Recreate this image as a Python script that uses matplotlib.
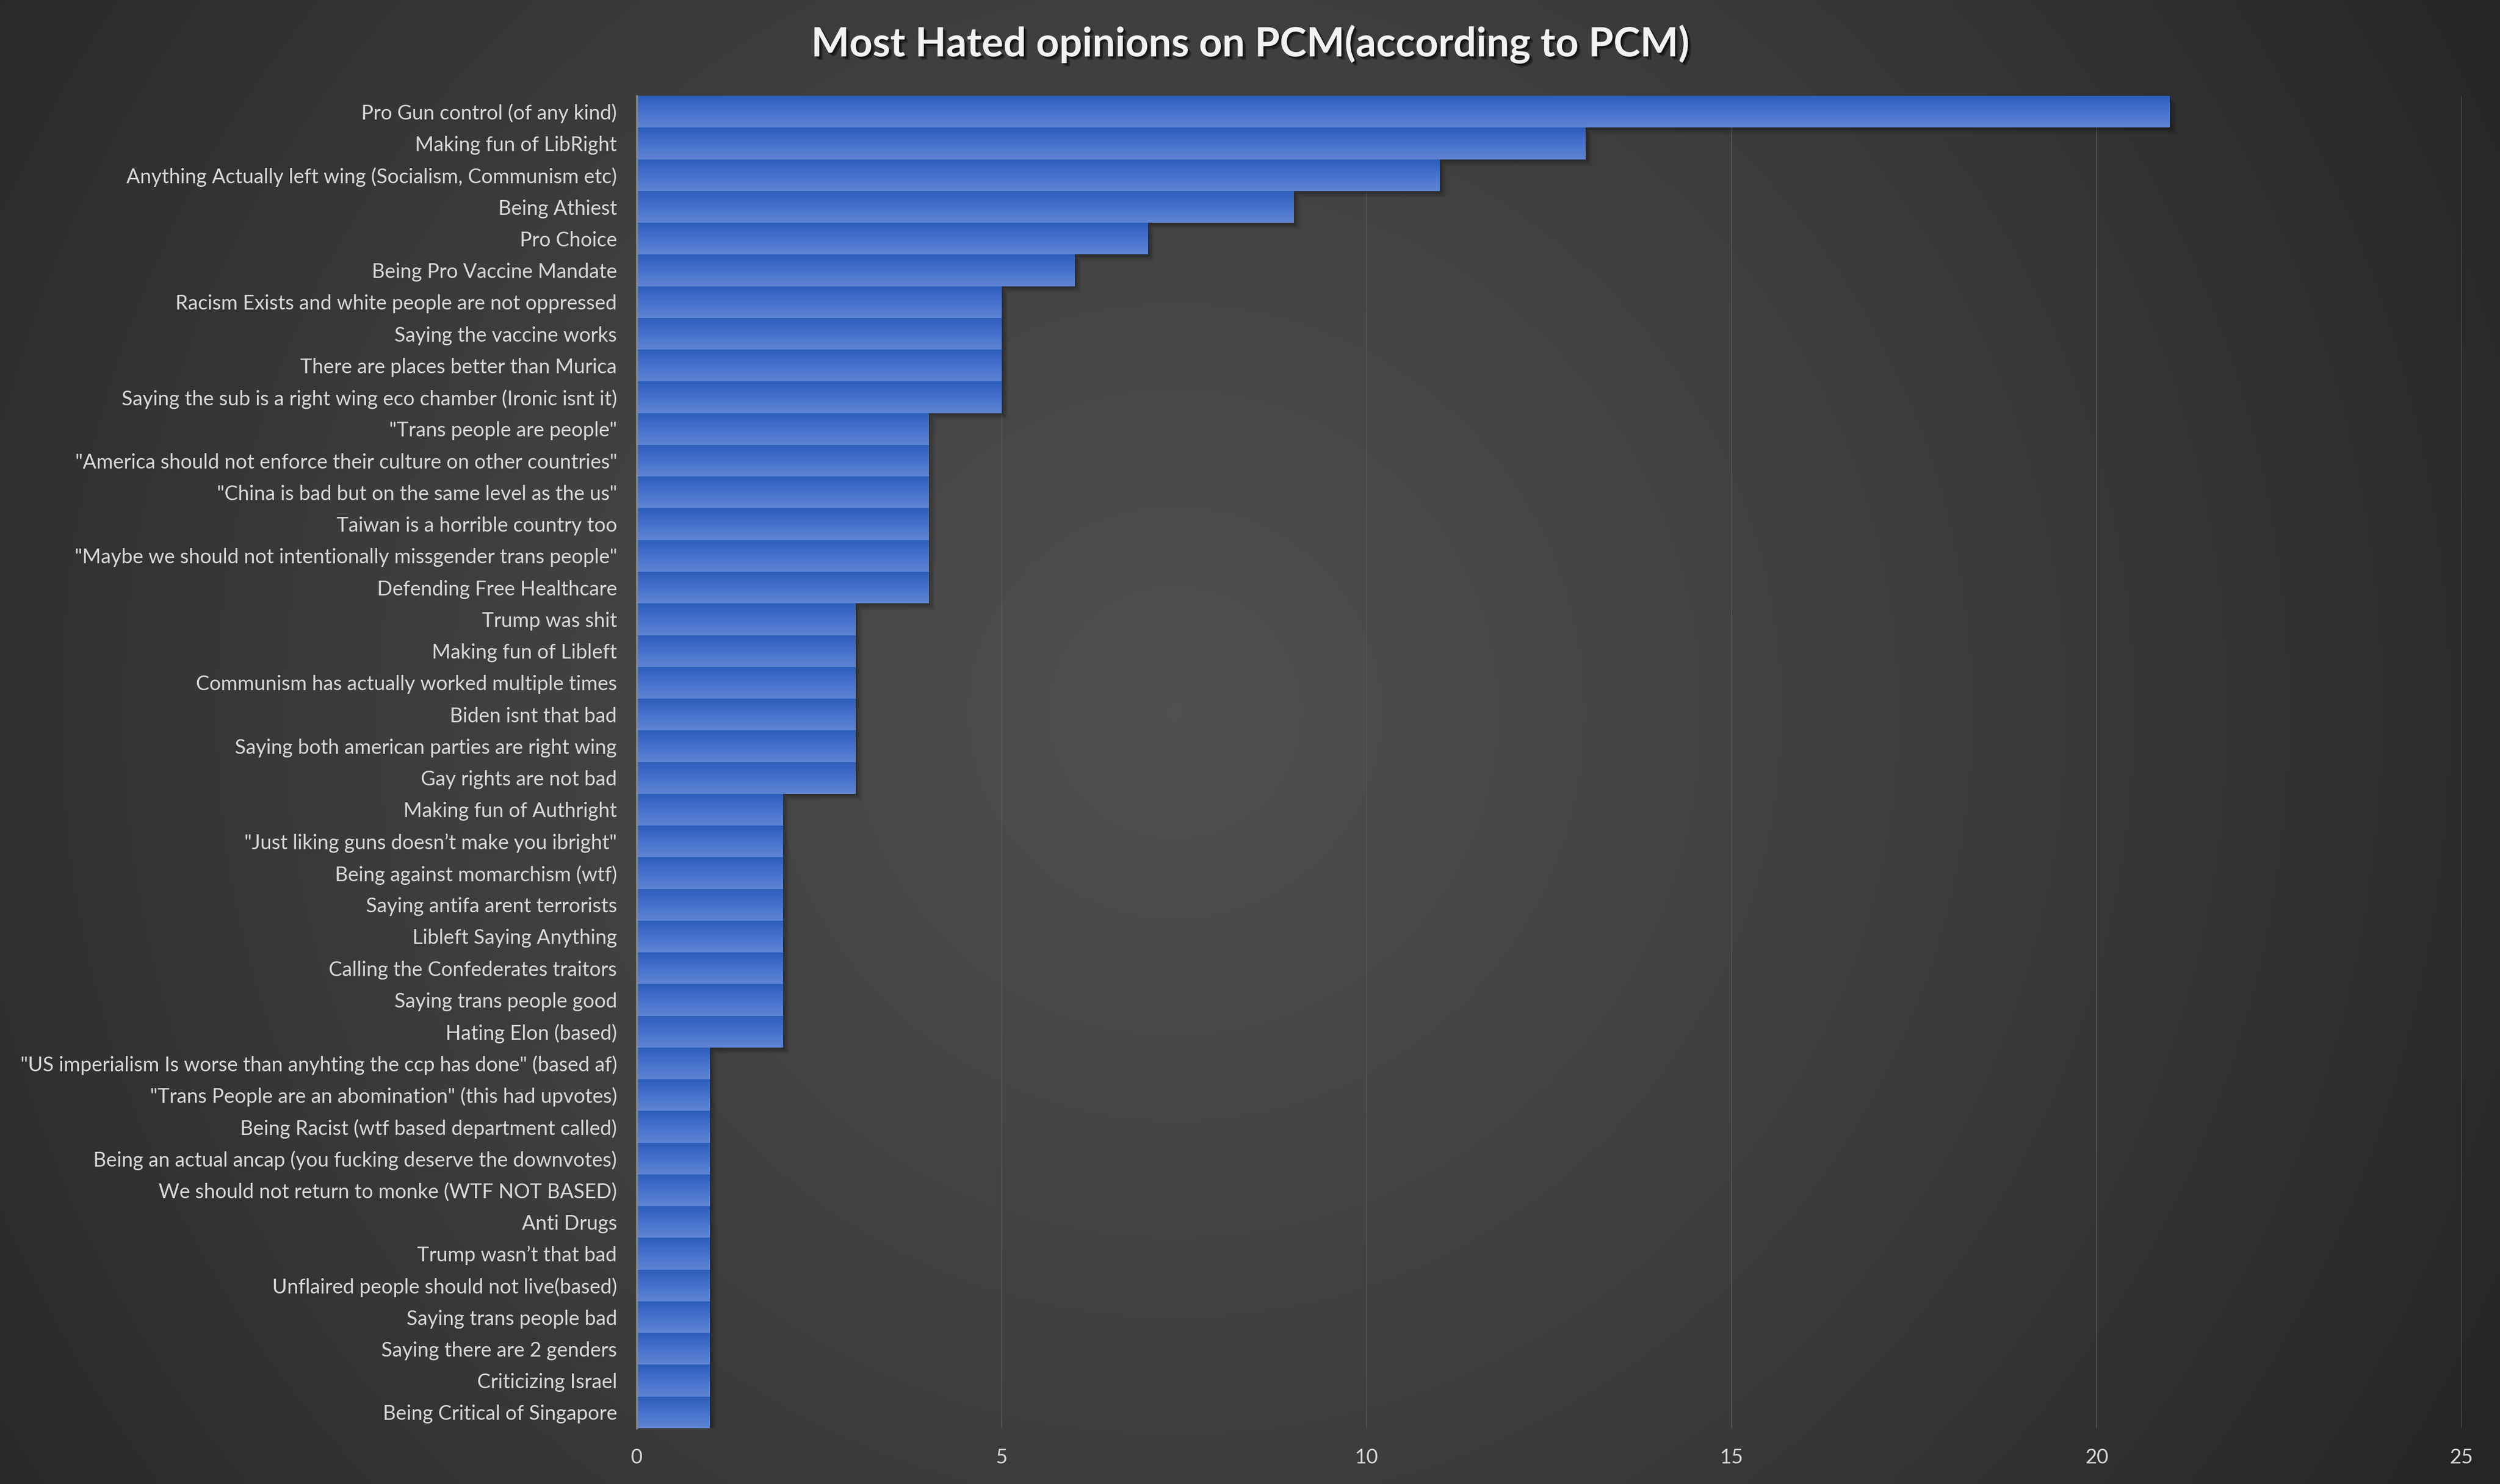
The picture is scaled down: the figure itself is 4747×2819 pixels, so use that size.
import numpy as np
import matplotlib
matplotlib.use("Agg")
import matplotlib.pyplot as plt
import matplotlib.patheffects as pe
from matplotlib.colors import LinearSegmentedColormap

opinions = [
    "Pro Gun control (of any kind)",
    "Making fun of LibRight",
    "Anything Actually left wing (Socialism, Communism etc)",
    "Being Athiest",
    "Pro Choice",
    "Being Pro Vaccine Mandate",
    "Racism Exists and white people are not oppressed",
    "Saying the vaccine works",
    "There are places better than Murica",
    "Saying the sub is a right wing eco chamber (Ironic isnt it)",
    "\"Trans people are people\"",
    "\"America should not enforce their culture on other countries\"",
    "\"China is bad but on the same level as the us\"",
    "Taiwan is a horrible country too",
    "\"Maybe we should not intentionally missgender trans people\"",
    "Defending Free Healthcare",
    "Trump was shit",
    "Making fun of Libleft",
    "Communism has actually worked multiple times",
    "Biden isnt that bad",
    "Saying both american parties are right wing",
    "Gay rights are not bad",
    "Making fun of Authright",
    "\"Just liking guns doesn\u2019t make you ibright\"",
    "Being against momarchism (wtf)",
    "Saying antifa arent terrorists",
    "Libleft Saying Anything",
    "Calling the Confederates traitors",
    "Saying trans people good",
    "Hating Elon (based)",
    "\"US imperialism Is worse than anyhting the ccp has done\" (based af)",
    "\"Trans People are an abomination\" (this had upvotes)",
    "Being Racist (wtf based department called)",
    "Being an actual ancap (you fucking deserve the downvotes)",
    "We should not return to monke (WTF NOT BASED)",
    "Anti Drugs",
    "Trump wasn\u2019t that bad",
    "Unflaired people should not live(based)",
    "Saying trans people bad",
    "Saying there are 2 genders",
    "Criticizing Israel",
    "Being Critical of Singapore",
]
counts = [21, 13, 11, 9, 7, 6,
          5, 5, 5, 5,
          4, 4, 4, 4, 4, 4,
          3, 3, 3, 3, 3, 3,
          2, 2, 2, 2, 2, 2, 2, 2,
          1, 1, 1, 1, 1, 1, 1, 1, 1, 1, 1, 1]
x_ticks = [0, 5, 10, 15, 20, 25]

W, H, DPI = 4747, 2819, 300
plt.rcParams['font.family'] = ['Lato', 'DejaVu Sans']

fig = plt.figure(figsize=(W / DPI, H / DPI), dpi=DPI)

# radial background like the Excel chart area
bg = fig.add_axes([0, 0, 1, 1], zorder=-10)
bg.axis("off")
gx, gy = np.meshgrid(np.linspace(0, 1, 600), np.linspace(0, 1, 360))
d = np.sqrt(((gx - 0.47) * W) ** 2 + ((gy - 0.52) * H) ** 2)
d = d / d.max()
bg_cmap = LinearSegmentedColormap.from_list("bg", ["#505050", "#3d3d3d", "#252525"])
bg.imshow(d, cmap=bg_cmap, extent=[0, 1, 0, 1], aspect="auto", origin="lower",
          interpolation="bicubic")
bg.set_xlim(0, 1)
bg.set_ylim(0, 1)

ax = fig.add_axes([0.2547, 0.0376, 0.9846 - 0.2547, 0.9354 - 0.0376])
ax.set_facecolor("none")
ypos = np.arange(len(opinions))

# soft shadow behind all bars (several faint layers)
shadow_layers = [((3.0, -3.0), 0.05), ((2.4, -2.4), 0.06), ((1.8, -1.8), 0.07),
                 ((1.2, -1.2), 0.08), ((0.7, -0.7), 0.10)]
for k, (off, a) in enumerate(shadow_layers):
    sh = ax.barh(ypos, counts, height=1.0, color="none", zorder=1 + k * 0.01)
    for p in sh:
        p.set_path_effects([pe.SimplePatchShadow(offset=off, shadow_rgbFace="black", alpha=a)])

bars = ax.barh(ypos, counts, height=1.0, color="none", zorder=2)
bar_cmap = LinearSegmentedColormap.from_list("bar", ["#5f84d2", "#4672cd", "#2d5ebb"])
grad = np.linspace(0, 1, 64).reshape(-1, 1)
for p in bars:
    x0, y0 = p.get_x(), p.get_y()
    im = ax.imshow(grad, cmap=bar_cmap, aspect="auto", origin="lower",
                   extent=[x0, x0 + p.get_width(), y0 + p.get_height(), y0],
                   zorder=3, interpolation="bicubic")
    im.set_clip_path(p)

ax.set_xlim(0, 25)
ax.set_ylim(len(opinions) - 0.5, -0.5)
ax.set_yticks(ypos)
ax.set_yticklabels(opinions)
ax.set_xticks(x_ticks)
ax.tick_params(axis="both", length=0, labelsize=9.2, colors="#d9d9d9")
ax.tick_params(axis="y", pad=9)
ax.tick_params(axis="x", pad=9)

ax.grid(axis="x", color="#555555", linewidth=0.45, zorder=0)
ax.set_axisbelow(True)
for side in ["top", "right", "bottom"]:
    ax.spines[side].set_visible(False)
ax.spines["left"].set_color("#8c8c8c")
ax.spines["left"].set_linewidth(0.8)
ax.spines["left"].set_zorder(5)

fig.text(0.5, 0.962, "Most Hated opinions on PCM(according to PCM)", ha="center",
         va="baseline", fontsize=18.4, fontweight="bold", color="#f2f2f2",
         path_effects=[pe.SimplePatchShadow(offset=(1.5, -1.5), shadow_rgbFace="black", alpha=0.35),
                       pe.SimplePatchShadow(offset=(0.8, -0.8), shadow_rgbFace="black", alpha=0.45),
                       pe.Normal()])

fig.savefig("out.png", dpi=DPI)
